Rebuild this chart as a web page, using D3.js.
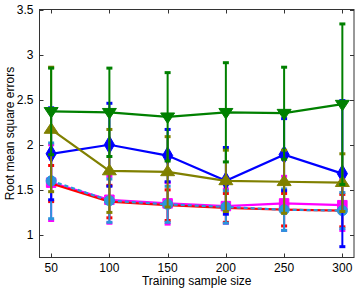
<!DOCTYPE html>
<html lang="en">
<head>
<meta charset="utf-8">
<script src="https://cdnjs.cloudflare.com/ajax/libs/d3/7.8.5/d3.min.js"></script>
<style>
  body { margin: 0; background: #fff; }
  text { font-family: "Liberation Sans", Arial, sans-serif; fill: #000; }
</style>
</head>
<body>
<svg id="chart" width="357" height="290"></svg>
<script>
const sampleSizes = [50, 100, 150, 200, 250, 300];
const xTicks = [50, 100, 150, 200, 250, 300];
const yTicks = [1, 1.5, 2, 2.5, 3, 3.5];

// series means and error bar half-widths
const magentaMean = [1.58, 1.39, 1.35, 1.32, 1.35, 1.33];
const magentaErr  = [0.42, 0.26, 0.23, 0.19, 0.30, 0.28];
const redMean     = [1.57, 1.37, 1.33, 1.30, 1.28, 1.27];
const redErr      = [0.20, 0.18, 0.17, 0.16, 0.18, 0.18];
const cyanMean    = [1.60, 1.38, 1.34, 1.31, 1.28, 1.27];
const cyanErr     = [0.42, 0.24, 0.20, 0.18, 0.23, 0.20];
const blueMean    = [1.90, 2.00, 1.88, 1.60, 1.89, 1.68];
const blueErr     = [0.51, 0.46, 0.29, 0.37, 0.40, 0.81];
const oliveMean   = [2.17, 1.71, 1.70, 1.60, 1.59, 1.58];
const oliveErr    = [0.69, 0.46, 0.39, 0.34, 0.35, 0.32];
const greenMean   = [2.37, 2.36, 2.31, 2.36, 2.35, 2.45];
const greenErr    = [0.48, 0.49, 0.49, 0.55, 0.51, 0.89];

const series = [
  { mean: magentaMean, err: magentaErr, color: "#ff00ff", marker: d3.symbolSquare, size: 90, dash: null },
  { mean: redMean, err: redErr, color: "#ff0000", marker: null, size: 0, dash: null },
  { mean: cyanMean, err: cyanErr, color: "#2b95dc", marker: d3.symbolCircle, size: 80, dash: "4,3" },
  { mean: blueMean, err: blueErr, color: "#0000ff", marker: d3.symbolDiamond, size: 90, dash: null },
  { mean: oliveMean, err: oliveErr, color: "#808000", marker: "up", size: 0, dash: null },
  { mean: greenMean, err: greenErr, color: "#008000", marker: "down", size: 0, dash: null }
];

const margin = { top: 9.5, right: 3, bottom: 32.5, left: 39.5 };
const W = 357, H = 290;
const svg = d3.select("#chart");

const x = d3.scaleLinear().domain([40, 310]).range([margin.left, W - margin.right]);
const y = d3.scaleLinear().domain([0.75, 3.5]).range([H - margin.bottom, margin.top]);

const plot = svg.append("g");

const line = d3.line().x((d, i) => x(sampleSizes[i])).y(d => y(d));

function triangle(cx, cy, up) {
  const s = 7;
  const h = up ? -1 : 1;
  return `M${cx - s},${cy - h * s * 0.55}L${cx + s},${cy - h * s * 0.55}L${cx},${cy + h * s * 0.95}Z`;
}

series.forEach(s => {
  // error bars
  s.mean.forEach((m, i) => {
    const cx = x(sampleSizes[i]);
    plot.append("line")
      .attr("x1", cx).attr("x2", cx)
      .attr("y1", y(m - s.err[i])).attr("y2", y(m + s.err[i]))
      .attr("stroke", s.color).attr("stroke-width", 2);
    [m - s.err[i], m + s.err[i]].forEach(v => {
      plot.append("line")
        .attr("x1", cx - 3).attr("x2", cx + 3)
        .attr("y1", y(v)).attr("y2", y(v))
        .attr("stroke", s.color).attr("stroke-width", 3);
    });
  });
  plot.append("path")
    .attr("d", line(s.mean))
    .attr("fill", "none")
    .attr("stroke", s.color)
    .attr("stroke-width", 2.2)
    .attr("stroke-dasharray", s.dash);
  s.mean.forEach((m, i) => {
    const cx = x(sampleSizes[i]), cy = y(m);
    if (s.marker === "up" || s.marker === "down") {
      plot.append("path")
        .attr("d", triangle(cx, cy, s.marker === "up"))
        .attr("fill", s.color).attr("stroke", s.color).attr("stroke-width", 1);
    } else if (s.marker) {
      plot.append("path")
        .attr("transform", `translate(${cx},${cy})`)
        .attr("d", d3.symbol().type(s.marker).size(s.size)())
        .attr("fill", s.color).attr("stroke", s.color).attr("stroke-width", 1);
    }
  });
});

// axes box with inward ticks (MATLAB style)
const axisColor = "#333";
const x0 = x.range()[0], x1 = x.range()[1], yTop = y.range()[1], yBot = y.range()[0];
svg.append("rect")
  .attr("x", x0).attr("y", yTop)
  .attr("width", x1 - x0).attr("height", yBot - yTop)
  .attr("fill", "none").attr("stroke", axisColor).attr("stroke-width", 1);

xTicks.forEach(t => {
  const px = Math.round(x(t)) + 0.5;
  svg.append("line").attr("x1", px).attr("x2", px).attr("y1", yBot).attr("y2", yBot - 4).attr("stroke", axisColor);
  svg.append("line").attr("x1", px).attr("x2", px).attr("y1", yTop).attr("y2", yTop + 4).attr("stroke", axisColor);
  svg.append("text").attr("x", x(t)).attr("y", yBot + 14)
    .attr("text-anchor", "middle").attr("font-size", 12).text(t);
});
yTicks.forEach(t => {
  const py = Math.round(y(t)) + 0.5;
  svg.append("line").attr("x1", x0).attr("x2", x0 + 4).attr("y1", py).attr("y2", py).attr("stroke", axisColor);
  svg.append("line").attr("x1", x1).attr("x2", x1 - 4).attr("y1", py).attr("y2", py).attr("stroke", axisColor);
  svg.append("text").attr("x", x0 - 6).attr("y", y(t) + 4)
    .attr("text-anchor", "end").attr("font-size", 12).text(t);
});

svg.append("text")
  .attr("x", (x0 + x1) / 2).attr("y", 285)
  .attr("text-anchor", "middle").attr("font-size", 12)
  .text("Training sample size");
svg.append("text")
  .attr("transform", `translate(14,${(yTop + yBot) / 2}) rotate(-90)`)
  .attr("text-anchor", "middle").attr("font-size", 12)
  .text("Root mean square errors");
</script>
</body>
</html>
